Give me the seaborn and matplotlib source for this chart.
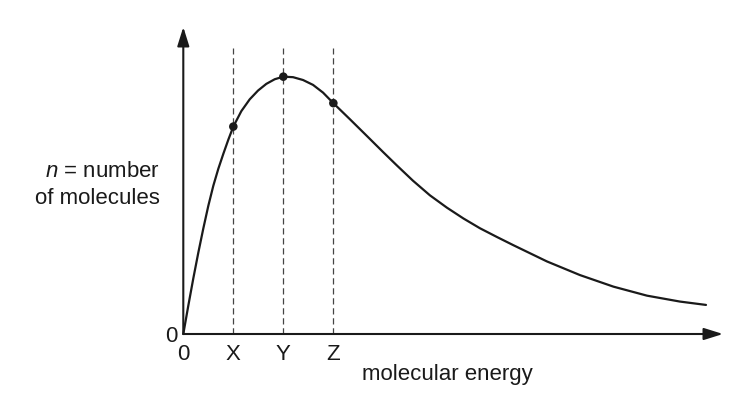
import matplotlib
matplotlib.use("Agg")
import matplotlib.pyplot as plt
import seaborn as sns
import pandas as pd

###--- Curve (energy in units of X, n scaled so the peak is 100)
energy = [0.0, 0.1, 0.2, 0.3, 0.4, 0.5, 0.6, 0.7, 0.8, 0.9, 1.0,
          1.16, 1.328, 1.494, 1.66, 1.828, 2.0, 2.194, 2.394, 2.594, 2.794,
          3.0, 3.334, 3.668, 4.0, 4.27, 4.59, 4.93, 5.27, 5.6, 5.93,
          6.27, 6.6, 7.27, 7.93, 8.6, 9.27, 9.93, 10.45]
molecules = [0.0, 11.0, 21.6, 31.6, 41.0, 49.8, 57.6, 64.2, 70.0, 75.5, 80.6,
             86.6, 91.2, 94.6, 97.2, 99.0, 100.0, 99.8, 98.7, 96.8, 93.8,
             89.7, 83.4, 77.0, 70.6, 65.5, 59.6, 53.9, 49.1, 44.9, 41.1,
             37.7, 34.5, 28.2, 22.9, 18.4, 14.9, 12.6, 11.3]

###--- Marked energies on the curve
marked_energy = [1.0, 2.0, 3.0]
marked_n = [80.6, 100.0, 89.7]
tick_pos = [0, 1, 2, 3]
tick_labels = ["0", "X", "Y", "Z"]

sns.set_theme(style="white")
plt.rcParams["font.family"] = ["Liberation Sans", "DejaVu Sans"]
plt.rcParams["mathtext.fontset"] = "custom"
plt.rcParams["mathtext.it"] = "Liberation Sans:italic"
plt.rcParams["mathtext.rm"] = "Liberation Sans"

df = pd.DataFrame({"energy": energy, "n": molecules})
dots = pd.DataFrame({"energy": marked_energy, "n": marked_n})

W, H = 738, 405
fig = plt.figure(figsize=(W / 100, H / 100), dpi=100)
ax = fig.add_axes([183.3 / W, 1 - 334 / H, (723 - 183.3) / W, (334 - 27) / H])

ax.vlines(marked_energy, 0, 111.2, colors="#444444", linewidth=0.9,
          linestyles=(0, (5, 3)), zorder=1)
sns.lineplot(data=df, x="energy", y="n", ax=ax, color="#1a1a1a",
             linewidth=1.6, zorder=3, clip_on=False, solid_joinstyle="round")
sns.scatterplot(data=dots, x="energy", y="n", ax=ax, color="#1a1a1a",
                s=38, edgecolor="none", zorder=4)

ax.set_xlim(0, 10.79)
ax.set_ylim(0, 119.3)
for s in ax.spines.values():
    s.set_visible(False)

###--- Axes with arrow heads
arrow = dict(arrowstyle="-|>,head_length=1.15,head_width=0.36", color="#1a1a1a",
             linewidth=1.5, shrinkA=0, shrinkB=0, mutation_scale=10)
ax.annotate("", xy=(1, 0), xytext=(0, 0), xycoords="axes fraction",
            textcoords="axes fraction", arrowprops=arrow, annotation_clip=False)
ax.annotate("", xy=(0, 1), xytext=(0, 0), xycoords="axes fraction",
            textcoords="axes fraction", arrowprops=arrow, annotation_clip=False)

ax.set_xticks(tick_pos)
ax.set_xticklabels(tick_labels)
ax.set_yticks([0])
ax.set_yticklabels(["0"])
ax.tick_params(axis="x", length=0, pad=7, labelsize=16, colors="#1a1a1a")
ax.tick_params(axis="y", length=0, pad=4.5, labelsize=16, colors="#1a1a1a")
ax.set_xlabel("")
ax.set_ylabel("")

fig.text(447.5 / W, 1 - 380 / H, "molecular energy", ha="center", va="baseline",
         fontsize=16, color="#1a1a1a")
fig.text(160 / W, 1 - 177.3 / H, "$n$ = number", ha="right", va="baseline",
         fontsize=16, color="#1a1a1a")
fig.text(160 / W, 1 - 204 / H, "of molecules", ha="right", va="baseline",
         fontsize=16, color="#1a1a1a")

fig.savefig("out.png", dpi=100)
